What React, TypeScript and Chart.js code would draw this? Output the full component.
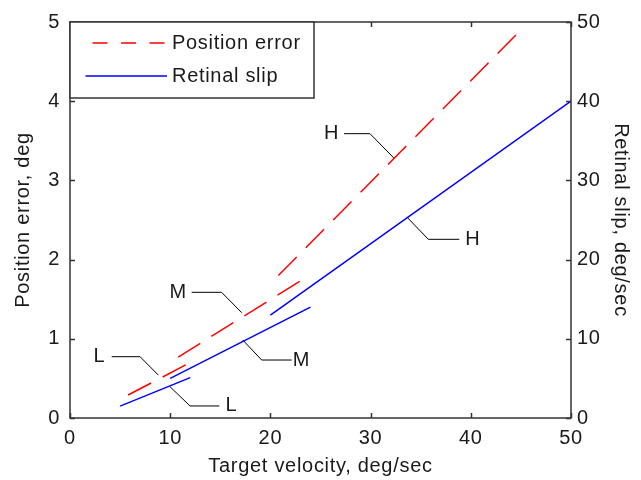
import React, { useEffect, useRef } from "react";
import { Chart, registerables } from "chart.js";

Chart.register(...registerables);

// ---- data ----
const SERIES_LABELS = ["Position error", "Retinal slip"];

const PE_LOW_X = [5.8, 12];
const PE_LOW_Y = [0.29, 0.7];
const PE_MID_X = [10.8, 24];
const PE_MID_Y = [0.77, 1.81];
const PE_HIGH_X = [20.8, 45];
const PE_HIGH_Y = [1.8, 4.9];

const RS_LOW_X = [5, 12];
const RS_LOW_Y = [1.5, 5.1];
const RS_MID_X = [10, 24];
const RS_MID_Y = [5, 14];
const RS_HIGH_X = [20, 50];
const RS_HIGH_Y = [13, 40];

const X_TICKS = [0, 10, 20, 30, 40, 50];
const Y_LEFT_TICKS = [0, 1, 2, 3, 4, 5];
const Y_RIGHT_TICKS = [0, 10, 20, 30, 40, 50];

const ANNOT_TEXT = ["L", "L", "M", "M", "H", "H"];
const ANNOT_TEXT_X = [2.93, 16.1, 10.8, 23.1, 26.1, 40.2];
const ANNOT_TEXT_Y = [0.774, 0.152, 1.587, 0.732, 3.59, 2.256];
const ANNOT_LINE_X = [
  [4.16, 6.99, 8.81],
  [9.98, 11.98, 14.9],
  [12.14, 15.13, 17.13],
  [17.24, 19.13, 22.12],
  [27.35, 29.94, 32.34],
  [33.6, 35.76, 38.85],
];
const ANNOT_LINE_Y = [
  [0.774, 0.774, 0.543],
  [0.395, 0.152, 0.152],
  [1.587, 1.587, 1.33],
  [0.985, 0.732, 0.732],
  [3.59, 3.59, 3.28],
  [2.54, 2.256, 2.256],
];

const RED = "#ff0000";
const BLUE = "#0000ff";
const TEXT = "#1a1a1a";
const AXIS = "#333333";
const FONT_FAMILY = "'Liberation Sans', Arial, Helvetica, sans-serif";
const FONT_SIZE = 20;
const LETTER_SPACING = "0.7px";
const DASH = [26, 13];

const pts = (xs: number[], ys: number[]) => xs.map((x, i) => ({ x, y: ys[i] }));

const spacingPlugin = {
  id: "spacingPlugin",
  beforeDraw(chart: any) {
    try {
      (chart.ctx as any).letterSpacing = LETTER_SPACING;
    } catch (e) {}
  },
};

const framePlugin = {
  id: "framePlugin",
  afterDatasetsDraw(chart: any) {
    const { ctx, chartArea: a, scales } = chart;
    const xs = scales.x;
    const yl = scales.y;
    const yr = scales.y2;
    ctx.save();
    try {
      (ctx as any).letterSpacing = LETTER_SPACING;
    } catch (e) {}
    // annotation texts
    ctx.fillStyle = TEXT;
    ctx.font = `${FONT_SIZE}px ${FONT_FAMILY}`;
    ctx.textAlign = "center";
    ctx.textBaseline = "middle";
    ANNOT_TEXT.forEach((t, i) => {
      ctx.fillText(t, xs.getPixelForValue(ANNOT_TEXT_X[i]), yl.getPixelForValue(ANNOT_TEXT_Y[i]));
    });

    // frame + inward ticks
    ctx.strokeStyle = AXIS;
    ctx.lineWidth = 1.5;
    ctx.setLineDash([]);
    ctx.strokeRect(a.left, a.top, a.right - a.left, a.bottom - a.top);
    const tl = 5;
    ctx.beginPath();
    X_TICKS.forEach((v) => {
      const px = Math.round(xs.getPixelForValue(v)) + 0.5;
      ctx.moveTo(px, a.bottom);
      ctx.lineTo(px, a.bottom - tl);
      ctx.moveTo(px, a.top);
      ctx.lineTo(px, a.top + tl);
    });
    Y_LEFT_TICKS.forEach((v) => {
      const py = Math.round(yl.getPixelForValue(v)) + 0.5;
      ctx.moveTo(a.left, py);
      ctx.lineTo(a.left + tl, py);
    });
    Y_RIGHT_TICKS.forEach((v) => {
      const py = Math.round(yr.getPixelForValue(v)) + 0.5;
      ctx.moveTo(a.right, py);
      ctx.lineTo(a.right - tl, py);
    });
    ctx.stroke();

    // legend box
    const bx = a.left;
    const by = a.top;
    const bw = 244;
    const bh = 76;
    ctx.fillStyle = "#ffffff";
    ctx.fillRect(bx, by, bw, bh);
    ctx.strokeRect(bx, by, bw, bh);
    const rows = [
      { y: by + 21, color: RED, dash: [15, 13.5], x0: bx + 22.5 },
      { y: by + 54, color: BLUE, dash: [], x0: bx + 15.5 },
    ];
    rows.forEach((r, i) => {
      ctx.beginPath();
      ctx.strokeStyle = r.color;
      ctx.lineWidth = 1.5;
      ctx.setLineDash(r.dash);
      ctx.moveTo(r.x0, r.y);
      ctx.lineTo(bx + 97, r.y);
      ctx.stroke();
      ctx.setLineDash([]);
      ctx.fillStyle = TEXT;
      ctx.textAlign = "left";
      ctx.textBaseline = "middle";
      ctx.fillText(SERIES_LABELS[i], bx + 102, r.y);
    });
    ctx.restore();
  },
};

export default function App() {
  const ref = useRef<HTMLCanvasElement | null>(null);
  useEffect(() => {
    document.body.style.margin = "0";
    const canvas = ref.current;
    if (!canvas) return;
    const font = { family: FONT_FAMILY, size: FONT_SIZE };
    const redSet = (xs: number[], ys: number[]) => ({
      label: SERIES_LABELS[0],
      data: pts(xs, ys),
      yAxisID: "y",
      borderColor: RED,
      borderWidth: 1.5,
      borderDash: DASH,
      pointRadius: 0,
      fill: false,
      tension: 0,
    });
    const blueSet = (xs: number[], ys: number[]) => ({
      label: SERIES_LABELS[1],
      data: pts(xs, ys),
      yAxisID: "y2",
      borderColor: BLUE,
      borderWidth: 1.5,
      pointRadius: 0,
      fill: false,
      tension: 0,
    });
    const leaderSets = ANNOT_LINE_X.map((xs, i) => ({
      label: "leader" + i,
      data: pts(xs, ANNOT_LINE_Y[i]),
      yAxisID: "y",
      borderColor: "#000000",
      borderWidth: 1,
      pointRadius: 0,
      fill: false,
      tension: 0,
    }));
    const chart = new Chart(canvas, {
      type: "line",
      data: {
        datasets: [
          redSet(PE_LOW_X, PE_LOW_Y),
          redSet(PE_MID_X, PE_MID_Y),
          redSet(PE_HIGH_X, PE_HIGH_Y),
          blueSet(RS_LOW_X, RS_LOW_Y),
          blueSet(RS_MID_X, RS_MID_Y),
          blueSet(RS_HIGH_X, RS_HIGH_Y),
          ...leaderSets,
        ] as any,
      },
      options: {
        responsive: false,
        animation: false,
        layout: { padding: { top: 22, left: 0, right: 0, bottom: 0 } },
        plugins: { legend: { display: false }, tooltip: { enabled: false } },
        scales: {
          x: {
            type: "linear",
            min: 0,
            max: 50,
            afterBuildTicks: (s: any) => {
              s.ticks = X_TICKS.map((v) => ({ value: v }));
            },
            ticks: { color: TEXT, font, padding: 8, maxRotation: 0, autoSkip: false },
            grid: { display: false, drawTicks: false },
            border: { display: false },
            title: {
              display: true,
              text: "Target velocity, deg/sec",
              color: TEXT,
              font,
              padding: { top: 2, bottom: 2 },
            },
            afterFit: (s: any) => {
              s.height = 62;
            },
          },
          y: {
            type: "linear",
            position: "left",
            min: 0,
            max: 5,
            afterBuildTicks: (s: any) => {
              s.ticks = Y_LEFT_TICKS.map((v) => ({ value: v }));
            },
            ticks: { color: TEXT, font, padding: 10, autoSkip: false },
            grid: { display: false, drawTicks: false },
            border: { display: false },
            title: {
              display: true,
              text: "Position error, deg",
              color: TEXT,
              font,
              padding: { top: 11, bottom: 11 },
            },
            afterFit: (s: any) => {
              s.width = 70;
            },
          },
          y2: {
            type: "linear",
            position: "right",
            min: 0,
            max: 50,
            afterBuildTicks: (s: any) => {
              s.ticks = Y_RIGHT_TICKS.map((v) => ({ value: v }));
            },
            ticks: { color: TEXT, font, padding: 6, autoSkip: false },
            grid: { display: false, drawTicks: false },
            border: { display: false },
            title: {
              display: true,
              text: "Retinal slip, deg/sec",
              color: TEXT,
              font,
              padding: { top: 8, bottom: 8 },
            },
            afterFit: (s: any) => {
              s.width = 70;
            },
          },
        },
      } as any,
      plugins: [spacingPlugin, framePlugin],
    });
    return () => chart.destroy();
  }, []);
  return <canvas ref={ref} width={641} height={480} style={{ display: "block" }} />;
}
